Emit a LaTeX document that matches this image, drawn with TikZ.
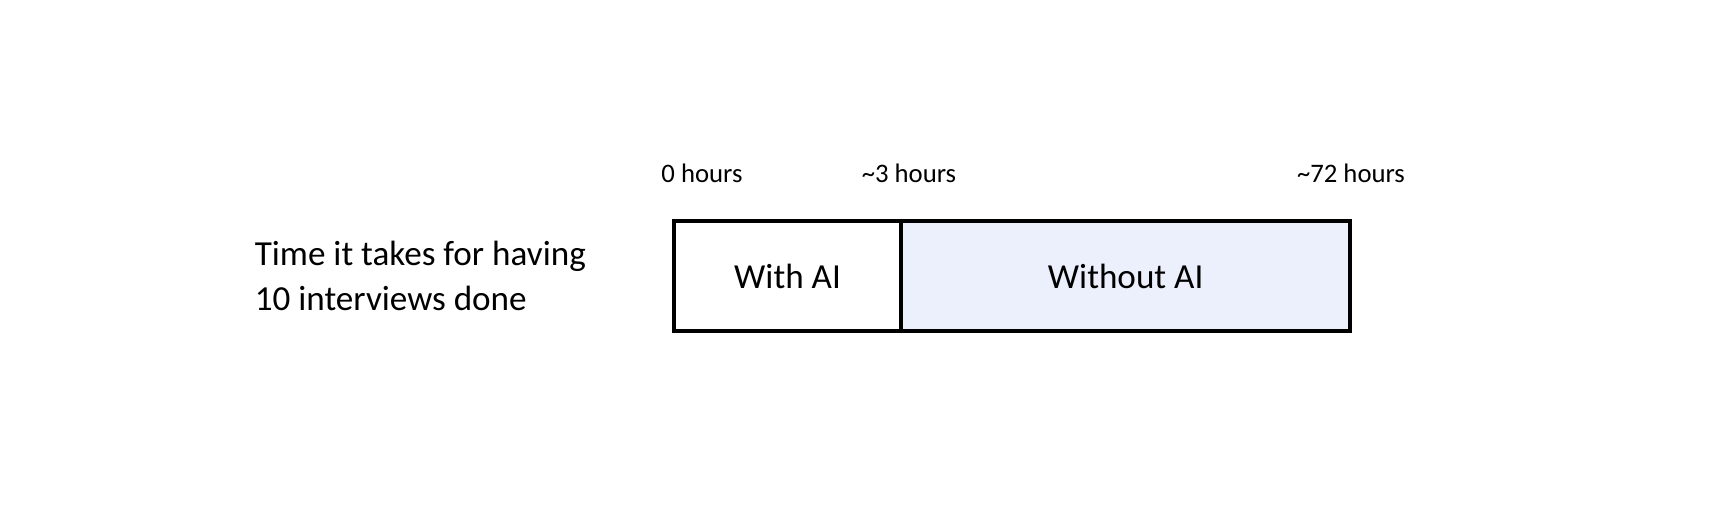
\documentclass[tikz,border=0pt]{standalone}
\usepackage{fontspec}
\setmainfont{Carlito}
\usetikzlibrary{positioning}
\definecolor{lightblue}{RGB}{236,240,252}
\begin{document}
\begin{tikzpicture}[semithick,
  bar/.style={inner sep=0pt, minimum height=1.08cm, font=\fontsize{10}{12}\selectfont},
  hourlabel/.style={font=\fontsize{7.6}{9}\selectfont}]
  \useasboundingbox (0,0) rectangle (17.14,5.2);
  \node[align=left, anchor=west, font=\fontsize{10}{12.8}\selectfont] (task) at (2.42,2.445) {Time it takes for having\\10 interviews done};
  \node[bar, minimum width=2.25cm, anchor=south west] (withai) at (6.74,1.89) {With AI};
  \node[bar, minimum width=4.47cm, fill=lightblue, anchor=west] (withoutai) at (withai.east) {Without AI};
  \draw[line width=1pt] (withai.south west) rectangle (withoutai.north east);
  \draw[line width=1pt] (withai.north east) -- (withai.south east);
  \node[hourlabel] (zero) at (7.02,3.47) {0 hours};
  \node[hourlabel] (three) at (9.09,3.47) {\char"7E{}3 hours};
  \node[hourlabel] (seventytwo) at (13.51,3.47) {\char"7E{}72 hours};
\end{tikzpicture}
\end{document}
